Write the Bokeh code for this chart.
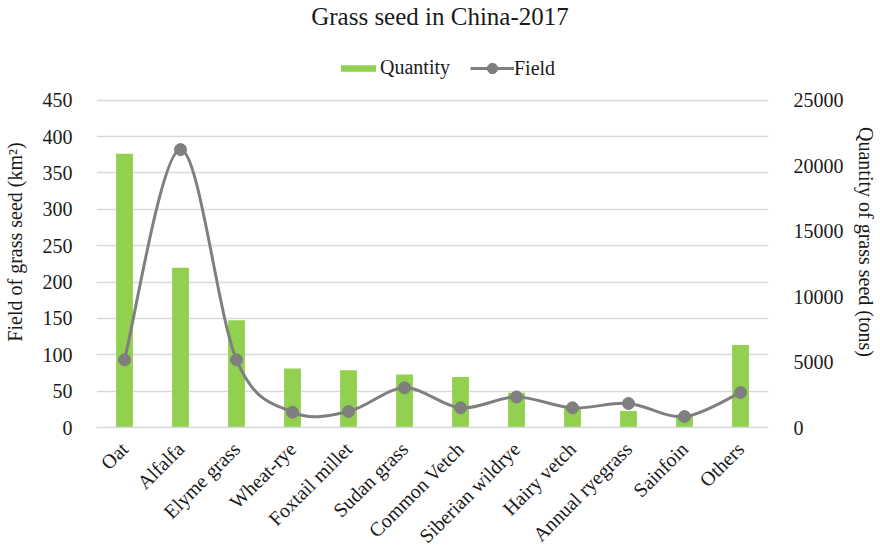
import math
from bokeh.plotting import figure
from bokeh.layouts import column
from bokeh.models import (Range1d, LinearAxis, FixedTicker, Legend, LegendItem,
                          ColumnDataSource, Div)
from bokeh.embed import file_html
from bokeh.resources import INLINE

# --- data -------------------------------------------------------------
categories = ["Oat", "Alfalfa", "Elyme grass", "Wheat-rye", "Foxtail millet",
              "Sudan grass", "Common Vetch", "Siberian wildrye", "Hairy vetch",
              "Annual ryegrass", "Sainfoin", "Others"]
quantity_tons = [20900, 12200, 8200, 4500, 4370, 4040, 3860, 2650, 1500, 1260, 1000, 6300]
field_km2 = [93, 382, 93, 21, 22, 54.5, 27, 42, 27, 33, 15, 48]
left_ticks = [0, 50, 100, 150, 200, 250, 300, 350, 400, 450]
right_ticks = [0, 5000, 10000, 15000, 20000, 25000]

FONT = "Liberation Serif"
TEXT = "#1a1a1a"
GREEN = "#92D050"
GREY = "#7F7F7F"
GRID = "#D9D9D9"

n = len(categories)
xs = [i + 0.5 for i in range(n)]

TITLE_H = 40                      # height of the heading strip
W, H = 880, 557 - TITLE_H         # figure size below it
# the frame reaches above the 450 gridline to leave room for the legend
FRAME_TOP, FRAME_BOTTOM, GRID_TOP = 56 - TITLE_H, 430 - TITLE_H, 100 - TITLE_H
stretch = (FRAME_BOTTOM - FRAME_TOP) / (FRAME_BOTTOM - GRID_TOP)

heading = Div(text="Grass seed in China-2017", width=W, height=TITLE_H,
              margin=(0, 0, 0, 0),
              styles={"font-family": FONT, "font-size": "25px",
                      "text-align": "center", "line-height": "34px",
                      "color": TEXT, "width": f"{W}px"})

p = figure(width=W, height=H, output_backend="svg", toolbar_location=None,
           title=None,
           x_range=Range1d(0, n), y_range=Range1d(0, left_ticks[-1] * stretch),
           min_border_left=92, min_border_right=112,
           min_border_top=FRAME_TOP, min_border_bottom=H - FRAME_BOTTOM)
p.extra_y_ranges = {"tons": Range1d(0, right_ticks[-1] * stretch)}
p.outline_line_color = None
p.background_fill_color = "white"
p.border_fill_color = "white"

# bars: quantity on the right-hand axis
bars = p.vbar(x=xs, top=quantity_tons, width=0.3, y_range_name="tons",
              fill_color=GREEN, line_color=None)

# smoothed field line (Catmull-Rom segments as cubic Beziers)
pts = list(zip(xs, field_km2))
seg = dict(x0=[], y0=[], x1=[], y1=[], cx0=[], cy0=[], cx1=[], cy1=[])
for i in range(n - 1):
    p0 = pts[i - 1] if i > 0 else pts[i]
    p1 = pts[i]
    p2 = pts[i + 1]
    p3 = pts[i + 2] if i + 2 < n else pts[i + 1]
    seg["x0"].append(p1[0]); seg["y0"].append(p1[1])
    seg["x1"].append(p2[0]); seg["y1"].append(p2[1])
    seg["cx0"].append(p1[0] + (p2[0] - p0[0]) / 6)
    seg["cy0"].append(p1[1] + (p2[1] - p0[1]) / 6)
    seg["cx1"].append(p2[0] - (p3[0] - p1[0]) / 6)
    seg["cy1"].append(p2[1] - (p3[1] - p1[1]) / 6)
curve = p.bezier(source=ColumnDataSource(seg), x0="x0", y0="y0", x1="x1", y1="y1",
                 cx0="cx0", cy0="cy0", cx1="cx1", cy1="cy1",
                 line_color=GREY, line_width=3)
dots = p.scatter(x=xs, y=field_km2, size=12, fill_color=GREY, line_color=GREY)

# x axis
p.xaxis.ticker = FixedTicker(ticks=xs)
p.xaxis.major_label_overrides = {x: c for x, c in zip(xs, categories)}
p.xaxis.major_label_orientation = math.pi / 4
p.xaxis.axis_line_color = GRID
p.xaxis.axis_line_width = 1.5
p.xaxis.major_tick_line_color = None
p.xaxis.minor_tick_line_color = None
p.xaxis.major_label_text_font = FONT
p.xaxis.major_label_text_font_size = "20px"
p.xaxis.major_label_text_color = TEXT
p.xaxis.major_label_standoff = 12


def style_y(ax, standoff, label_standoff):
    ax.axis_line_color = None
    ax.major_tick_line_color = None
    ax.minor_tick_line_color = None
    ax.major_label_text_font = FONT
    ax.major_label_text_font_size = "20px"
    ax.major_label_text_color = TEXT
    ax.major_label_standoff = standoff
    ax.axis_label_text_font = FONT
    ax.axis_label_text_font_size = "20px"
    ax.axis_label_text_font_style = "normal"
    ax.axis_label_text_color = TEXT
    ax.axis_label_standoff = label_standoff


# left axis: field (km²)
ly = p.yaxis[0]
ly.ticker = FixedTicker(ticks=left_ticks)
ly.axis_label = "Field of grass seed (km²)"
style_y(ly, 18, 14)

# right axis: quantity (tons)
ry = LinearAxis(y_range_name="tons", ticker=FixedTicker(ticks=right_ticks),
                axis_label="Quantity of grass seed (tons)")
style_y(ry, 19, 8)
p.add_layout(ry, "right")

p.xgrid.grid_line_color = None
p.ygrid.ticker = FixedTicker(ticks=left_ticks)
p.ygrid.grid_line_color = GRID
p.ygrid.grid_line_width = 1.5

# legend entries in the strip between the frame top and the 450 gridline;
# the line entry gets a taller glyph box so its marker reads at full size
common = dict(orientation="horizontal", label_text_font=FONT,
              label_text_font_size="20px", label_text_color=TEXT,
              glyph_width=44, label_standoff=0, border_line_color=None,
              background_fill_alpha=0, padding=0, margin=0)
legend_q = Legend(items=[LegendItem(label="Quantity", renderers=[bars])],
                  location=(240, 348), glyph_height=8, **common)
legend_f = Legend(items=[LegendItem(label="Field", renderers=[curve, dots])],
                  location=(374, 346), glyph_height=26, **common)
p.add_layout(legend_q)
p.add_layout(legend_f)

page = column(heading, p, spacing=0)
open("out.html", "w").write(file_html(page, INLINE))
